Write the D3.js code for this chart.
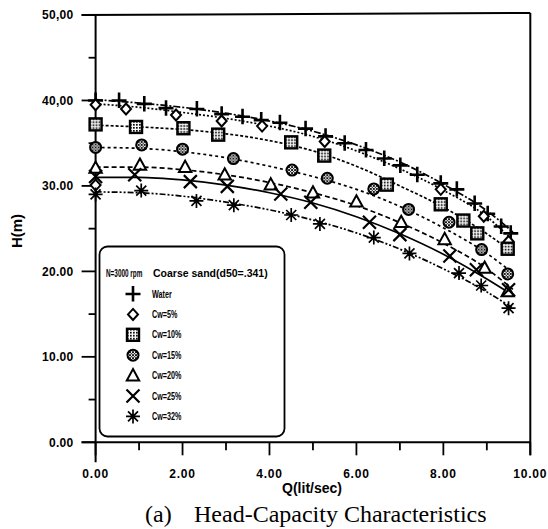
<!DOCTYPE html>
<html>
<head>
<meta charset="utf-8">
<script src="https://cdn.jsdelivr.net/npm/d3@7"></script>
<style>
  html, body { margin: 0; padding: 0; background: #fff; }
  svg { display: block; }
  text { fill: #000; }
</style>
</head>
<body>
<svg id="chart" width="548" height="529"></svg>
<script>
// ---- Measured points: Q (lit/sec) and H (m) ----
const waterQ = [0, 0.54, 1.12, 1.62, 2.33, 2.9, 3.38, 3.81, 4.24, 4.83, 5.29, 5.73, 6.22, 6.64, 7.01, 7.4, 7.94, 8.31, 8.72, 9.02, 9.33, 9.55];
const waterH = [40.0, 40.0, 39.6, 39.1, 39.0, 38.4, 38.1, 37.7, 37.4, 36.7, 35.8, 35.0, 34.2, 33.2, 32.4, 31.3, 30.3, 29.6, 27.95, 26.75, 25.25, 24.45];

const cw5Q = [0, 0.7, 1.85, 2.9, 3.83, 5.27, 7.94, 8.93, 9.5, 0];
const cw5H = [39.5, 39.0, 38.3, 37.6, 37.0, 35.2, 29.6, 26.45, 23.5, 30.1];

const cw10Q = [0, 0.93, 2.02, 2.82, 4.5, 5.26, 6.7, 7.94, 8.46, 8.78, 9.48];
const cw10H = [37.2, 36.9, 36.75, 36.0, 35.1, 33.55, 30.15, 27.85, 25.95, 24.45, 22.65];

const cw15Q = [0, 1.06, 2.0, 3.17, 4.52, 5.33, 6.4, 7.2, 8.13, 8.88, 9.48];
const cw15H = [34.5, 34.8, 34.3, 33.2, 31.85, 30.9, 29.65, 27.25, 25.75, 22.55, 19.7];

const cw20Q = [0, 1.02, 2.06, 2.97, 4.03, 5.0, 6.0, 7.03, 8.03, 8.95, 9.48];
const cw20H = [32.1, 32.45, 32.2, 31.3, 30.15, 29.2, 28.15, 25.75, 23.75, 20.4, 17.65];

const cw25Q = [0, 0.9, 2.18, 3.03, 4.26, 4.95, 6.3, 7.0, 8.15, 8.76, 9.5];
const cw25H = [31.1, 31.3, 30.5, 29.95, 29.05, 28.1, 25.75, 24.3, 21.8, 20.2, 17.85];

const cw32Q = [0, 1.05, 2.32, 3.18, 4.5, 5.16, 6.4, 7.22, 8.36, 8.87, 9.5];
const cw32H = [29.0, 29.45, 28.25, 27.75, 26.6, 25.55, 23.95, 22.1, 19.8, 18.35, 15.7];

// ---- Fitted head curves, sampled on a common Q grid ----
const fitQ = [0, 1, 2, 3, 4, 5, 6, 7, 8, 9, 9.6];
const waterFit = [40.1, 39.7, 39.2, 38.5, 37.6, 36.4, 34.8, 32.8, 30.2, 27.1, 24.6];
const cw5Fit  = [39.6, 39.2, 38.6, 37.9, 37.0, 35.8, 34.1, 32.0, 29.5, 26.4, 23.6];
const cw10Fit = [37.1, 36.9, 36.6, 36.1, 35.3, 34.1, 32.3, 30.0, 27.5, 24.4, 22.2];
const cw15Fit = [34.5, 34.4, 34.0, 33.3, 32.3, 31.1, 29.6, 27.6, 25.1, 22.1, 19.8];
const cw20Fit = [32.2, 32.2, 31.9, 31.3, 30.4, 29.2, 27.7, 25.7, 23.3, 20.3, 17.9];
const cw25Fit = [31.0, 31.0, 30.7, 30.1, 29.2, 28.0, 26.4, 24.4, 22.0, 19.1, 17.2];
const cw32Fit = [29.3, 29.2, 28.8, 28.1, 27.2, 26.0, 24.5, 22.6, 20.3, 17.6, 15.7];

// ---- Labels ----
const seriesNames = ["Water", "Cw=5%", "Cw=10%", "Cw=15%", "Cw=20%", "Cw=25%", "Cw=32%"];
const xTickLabels = ["0.00", "2.00", "4.00", "6.00", "8.00", "10.00"];
const yTickLabels = ["0.00", "10.00", "20.00", "30.00", "40,00", "50,00"];
const legendTitleA = "N=3000 rpm";
const legendTitleB = "Coarse sand(d50=.341)";
const xTitle = "Q(lit/sec)";
const yTitle = "H(m)";
const captionTag = "(a)";
const captionText = "Head-Capacity Characteristics";

// ---- Layout ----
const svg = d3.select("#chart");
svg.append("rect").attr("width", 548).attr("height", 529).attr("fill", "#fff");

const x = d3.scaleLinear().domain([0, 10]).range([95.6, 530.3]);
const y = d3.scaleLinear().domain([0, 50]).range([442.3, 15]);

// fill patterns for the square and circle symbols
const defs = svg.append("defs");
const stip = defs.append("pattern").attr("id", "stip").attr("patternUnits", "userSpaceOnUse")
  .attr("width", 3).attr("height", 3);
stip.append("rect").attr("width", 3).attr("height", 3).attr("fill", "#fff");
stip.append("rect").attr("width", 1.7).attr("height", 1.7).attr("fill", "#000");
const hatch = defs.append("pattern").attr("id", "hatch").attr("patternUnits", "userSpaceOnUse")
  .attr("width", 3).attr("height", 3);
hatch.append("rect").attr("width", 3).attr("height", 3).attr("fill", "#fff");
hatch.append("path").attr("d", "M0,0L3,3M3,0L0,3").attr("stroke", "#000").attr("stroke-width", 0.9);

// ---- Axes and frame ----
const axisG = svg.append("g");
const yAxis = d3.axisLeft(y).tickValues(d3.range(0, 51, 5)).tickSize(0).tickFormat("");
axisG.append("g").attr("transform", `translate(${x(0)},0)`).call(yAxis)
  .call(g => g.select(".domain").remove());
const xAxis = d3.axisBottom(x).tickValues(d3.range(0, 11, 1)).tickSize(0).tickFormat("");
axisG.append("g").attr("transform", `translate(0,${y(0)})`).call(xAxis)
  .call(g => g.select(".domain").remove());

function seg(x1, y1, x2, y2, w) {
  axisG.append("line").attr("x1", x1).attr("y1", y1).attr("x2", x2).attr("y2", y2)
    .attr("stroke", "#000").attr("stroke-width", w || 2);
}
// left axis, bottom axis, top and right frame
seg(x(0), y(50), x(0), y(0) + 20);
seg(x(0) - 14, y(0), x(10), y(0));
seg(x(0) - 14, y(50), x(10), y(50) - 2);
seg(x(10), y(50) - 2, x(10), y(0) + 13);

// y ticks (major to the left, minor shorter)
d3.range(0, 51, 5).forEach(v => {
  const major = v % 10 === 0;
  seg(x(0) - (major ? 14 : 7), y(v), x(0), y(v), 1.8);
});
// x ticks (below the axis)
d3.range(0, 11, 1).forEach(v => {
  const major = v % 2 === 0;
  seg(x(v), y(0), x(v), y(0) + (major ? 13 : 8), 1.8);
});

// tick labels
const tickFont = "'Liberation Sans', Arial, sans-serif";
yTickLabels.forEach((t, i) => {
  svg.append("text").attr("x", 73.5).attr("y", y(i * 10)).attr("dy", "0.36em")
    .attr("text-anchor", "end").attr("font-family", tickFont).attr("font-weight", "bold")
    .attr("font-size", 12).attr("letter-spacing", 0.3).text(t);
});
xTickLabels.forEach((t, i) => {
  svg.append("text").attr("x", x(i * 2)).attr("y", 477.5)
    .attr("text-anchor", "middle").attr("font-family", tickFont).attr("font-weight", "bold")
    .attr("font-size", 12).attr("letter-spacing", 0.8).text(t);
});
svg.append("text").attr("x", 312).attr("y", 492.5).attr("text-anchor", "middle")
  .attr("font-family", tickFont).attr("font-weight", "bold").attr("font-size", 14).text(xTitle);
svg.append("text").attr("transform", "translate(22,231) rotate(-90)").attr("text-anchor", "middle")
  .attr("font-family", tickFont).attr("font-weight", "bold").attr("font-size", 15).text(yTitle);

// caption
const serif = "'Liberation Serif', 'Times New Roman', serif";
svg.append("text").attr("x", 145).attr("y", 521.5).attr("font-family", serif)
  .attr("font-size", 24).text(captionTag);
svg.append("text").attr("x", 194).attr("y", 521.5).attr("font-family", serif)
  .attr("font-size", 24).text(captionText);

// ---- Symbols ----
const symbolDraw = [
  // plus
  (g) => g.append("path").attr("d", "M-7.5,0H7.5M0,-8V7.5").attr("stroke", "#000").attr("stroke-width", 2.6).attr("fill", "none"),
  // diamond
  (g) => g.append("path").attr("d", "M0,-5.5L5,0L0,5.5L-5,0Z").attr("stroke", "#000").attr("stroke-width", 2).attr("fill", "#fff"),
  // stippled square
  (g) => g.append("rect").attr("x", -6).attr("y", -6).attr("width", 12).attr("height", 12)
        .attr("stroke", "#000").attr("stroke-width", 2.4).attr("fill", "url(#stip)"),
  // hatched circle
  (g) => g.append("circle").attr("r", 5.5).attr("stroke", "#000").attr("stroke-width", 2).attr("fill", "url(#hatch)"),
  // triangle
  (g) => g.append("path").attr("d", "M0,-6.5L6.2,4.8H-6.2Z").attr("stroke", "#000").attr("stroke-width", 2).attr("fill", "#fff"),
  // cross
  (g) => g.append("path").attr("d", "M-6.5,-6.5L6.5,6.5M-6.5,6.5L6.5,-6.5").attr("stroke", "#000").attr("stroke-width", 2.2).attr("fill", "none"),
  // asterisk
  (g) => g.append("path").attr("d", "M-7,0H7M0,-7V7M-5,-5L5,5M-5,5L5,-5").attr("stroke", "#000").attr("stroke-width", 1.7).attr("fill", "none")
];

const seriesQ = [waterQ, cw5Q, cw10Q, cw15Q, cw20Q, cw25Q, cw32Q];
const seriesH = [waterH, cw5H, cw10H, cw15H, cw20H, cw25H, cw32H];
const seriesFit = [waterFit, cw5Fit, cw10Fit, cw15Fit, cw20Fit, cw25Fit, cw32Fit];
const dashes = ["7,2,2,2", "2,2", "3,2", "3,3", "5,3", null, "6,2,2,2,2,2"];

// fitted curves
const curve = d3.line().x(d => x(d[0])).y(d => y(d[1])).curve(d3.curveMonotoneX);
const curveG = svg.append("g");
seriesFit.forEach((fit, i) => {
  const pts = fitQ.map((q, j) => [q, fit[j]]);
  curveG.append("path").attr("d", curve(pts)).attr("fill", "none").attr("stroke", "#000")
    .attr("stroke-width", 1.7)
    .attr("stroke-dasharray", dashes[i]);
});

// measured points
const markG = svg.append("g");
seriesQ.forEach((qs, i) => {
  qs.forEach((q, j) => {
    const g = markG.append("g").attr("transform", `translate(${x(q)},${y(seriesH[i][j])})`);
    symbolDraw[i](g);
  });
});

// ---- Legend ----
const legG = svg.append("g");
legG.append("rect").attr("x", 99.5).attr("y", 246.5).attr("width", 185).attr("height", 190)
  .attr("rx", 8).attr("ry", 8).attr("fill", "#fff").attr("stroke", "#000").attr("stroke-width", 1.8);
// condensed lettering: text is laid out normally, then squeezed horizontally
legG.append("text").attr("transform", "translate(106,277) scale(0.64,1)").attr("font-family", tickFont)
  .attr("font-weight", "bold").attr("font-size", 10).text(legendTitleA);
legG.append("text").attr("transform", "translate(153,277) scale(1.05,1)").attr("font-family", tickFont)
  .attr("font-weight", "bold").attr("font-size", 10).text(legendTitleB);

seriesNames.forEach((name, i) => {
  const cy = 294 + i * 20.4;
  const g = legG.append("g").attr("transform", `translate(133,${cy})`);
  symbolDraw[i](g);
  legG.append("text").attr("transform", `translate(152,${cy + 3.5}) scale(0.72,1)`)
    .attr("font-family", tickFont).attr("font-weight", "bold").attr("font-size", 10).text(name);
});
</script>
</body>
</html>
